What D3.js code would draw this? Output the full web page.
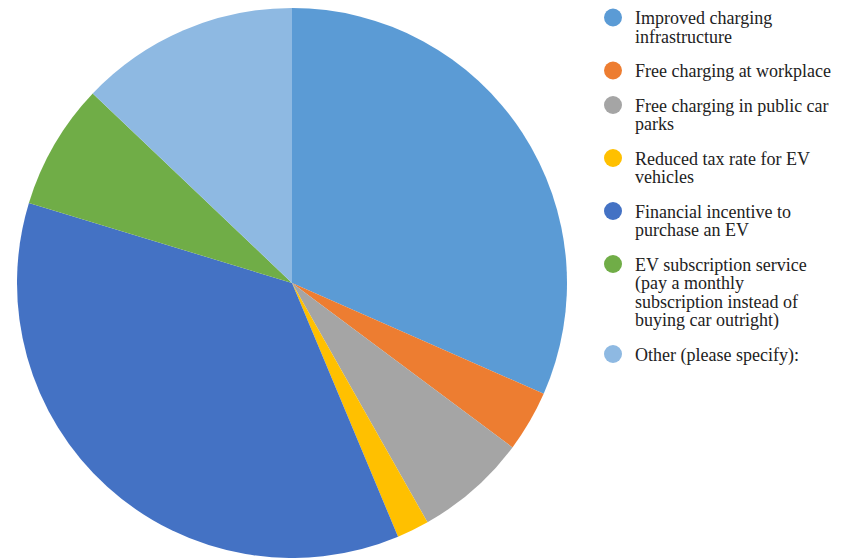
<!DOCTYPE html>
<html>
<head>
<meta charset="utf-8">
<script src="https://cdn.jsdelivr.net/npm/d3@7/dist/d3.min.js"></script>
<style>
  html, body { margin: 0; padding: 0; background: #ffffff; }
  svg { display: block; }
</style>
</head>
<body>
<svg id="chart" width="860" height="558"></svg>
<script>
// Preferred incentives for switching to an electric vehicle (share of responses, %)
const categories = [
  ["Improved charging", "infrastructure"],
  ["Free charging at workplace"],
  ["Free charging in public car", "parks"],
  ["Reduced tax rate for EV", "vehicles"],
  ["Financial incentive to", "purchase an EV"],
  ["EV subscription service", "(pay a monthly", "subscription instead of", "buying car outright)"],
  ["Other (please specify):"]
];
const values = [31.6, 3.6, 6.6, 1.9, 36.0, 7.4, 12.9];
const colors = ["#5B9BD5", "#ED7D31", "#A5A5A5", "#FFC000", "#4472C4", "#70AD47", "#8EB9E2"];

const svg = d3.select("#chart");
const cx = 292, cy = 283, radius = 275;

const data = categories.map((c, i) => ({ lines: c, value: values[i], color: colors[i] }));

const pie = d3.pie().value(d => d.value).sort(null).startAngle(0).endAngle(2 * Math.PI);
const arc = d3.arc().innerRadius(0).outerRadius(radius);

svg.append("g")
  .attr("transform", `translate(${cx},${cy})`)
  .selectAll("path")
  .data(pie(data))
  .join("path")
  .attr("d", arc)
  .attr("fill", d => d.data.color);

// Legend: one dot per category, wrapped labels beside it
const legendX = 613, textX = 635, lineH = 18.5, gap = 16;
let y = 17.5;
const legend = svg.append("g");
data.forEach(d => {
  const g = legend.append("g");
  g.append("circle").attr("cx", legendX).attr("cy", y).attr("r", 9).attr("fill", d.color);
  const t = g.append("text")
    .attr("x", textX).attr("y", y + 6.5)
    .attr("font-family", "'Liberation Serif', 'Times New Roman', serif")
    .attr("font-size", 18)
    .attr("fill", "#222");
  d.lines.forEach((ln, j) => {
    t.append("tspan").attr("x", textX).attr("dy", j === 0 ? 0 : lineH).text(ln);
  });
  y += d.lines.length * lineH + gap;
});
</script>
</body>
</html>
